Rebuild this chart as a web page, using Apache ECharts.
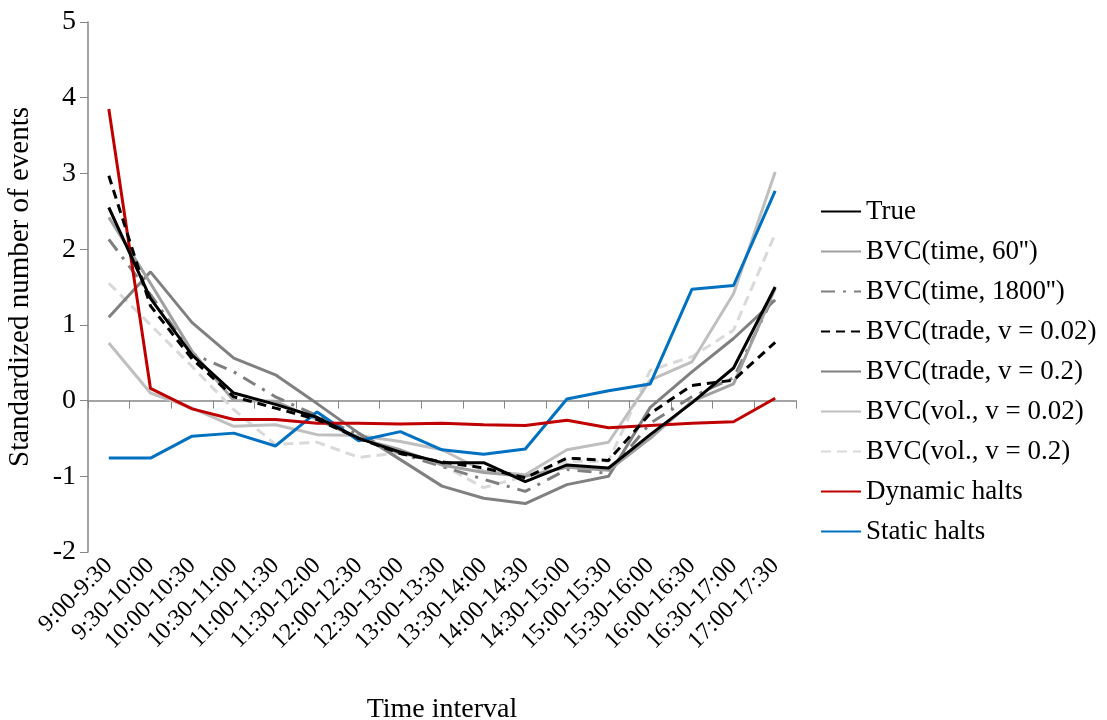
<!DOCTYPE html>
<html>
<head>
<meta charset="utf-8">
<script src="https://cdn.jsdelivr.net/npm/echarts@6/dist/echarts.min.js"></script>
<style>html,body{margin:0;padding:0;background:#fff}#c{width:1107px;height:720px}</style>
</head>
<body>
<div id="c"></div>
<script>
const categories = ["9:00-9:30","9:30-10:00","10:00-10:30","10:30-11:00","11:00-11:30","11:30-12:00","12:00-12:30","12:30-13:00","13:00-13:30","13:30-14:00","14:00-14:30","14:30-15:00","15:00-15:30","15:30-16:00","16:00-16:30","16:30-17:00","17:00-17:30"];
const trueVals      = [2.55, 1.35, 0.60, 0.10, -0.05, -0.22, -0.50, -0.68, -0.82, -0.82, -1.07, -0.85, -0.89, -0.45, -0.03, 0.43, 1.50];
const bvcTime60     = [2.42, 1.55, 0.65, 0.00, -0.01, -0.25, -0.50, -0.65, -0.85, -0.95, -1.00, -0.88, -0.92, -0.50, -0.01, 0.22, 1.48];
const bvcTime1800   = [2.13, 1.40, 0.62, 0.38, 0.05, -0.20, -0.45, -0.70, -0.87, -1.04, -1.20, -0.91, -0.96, -0.30, 0.05, 0.30, 1.42];
const bvcTrade002   = [2.97, 1.25, 0.55, 0.05, -0.10, -0.25, -0.50, -0.70, -0.81, -0.89, -1.02, -0.76, -0.79, -0.17, 0.20, 0.27, 0.77];
const bvcTrade02    = [1.10, 1.70, 1.03, 0.56, 0.34, -0.04, -0.43, -0.78, -1.13, -1.29, -1.36, -1.11, -1.00, -0.09, 0.38, 0.82, 1.33];
const bvcVol002     = [0.76, 0.10, -0.10, -0.34, -0.32, -0.45, -0.46, -0.54, -0.65, -0.93, -0.98, -0.65, -0.55, 0.27, 0.51, 1.41, 3.02];
const bvcVol02      = [1.55, 1.00, 0.45, -0.12, -0.58, -0.55, -0.75, -0.69, -0.85, -1.15, -1.00, -0.80, -0.80, 0.40, 0.58, 0.93, 2.20];
const dynamicHalts  = [3.85, 0.16, -0.11, -0.25, -0.25, -0.30, -0.30, -0.31, -0.30, -0.32, -0.33, -0.26, -0.36, -0.33, -0.30, -0.28, 0.03];
const staticHalts   = [-0.76, -0.76, -0.47, -0.43, -0.60, -0.15, -0.53, -0.41, -0.65, -0.71, -0.64, 0.02, 0.13, 0.22, 1.47, 1.52, 2.77];
const yTicks = [-2, -1, 0, 1, 2, 3, 4, 5];

const serif = "'Liberation Serif', 'DejaVu Serif', serif";
function mk(name, data, color, type) {
  return {
    name, type: 'line', data, symbol: 'none', showSymbol: false,
    lineStyle: { color, width: 3, type: type || 'solid' },
    itemStyle: { color }
  };
}
const chart = echarts.init(document.getElementById('c'));
chart.setOption({
  animation: false,
  backgroundColor: '#fff',
  grid: { left: 88, right: 311, top: 22, bottom: 168, containLabel: false, outerBoundsMode: 'none' },
  legend: {
    orient: 'vertical', left: 815, top: 192,
    itemWidth: 40, itemHeight: 14, itemGap: 11,
    itemStyle: { opacity: 0 },
    textStyle: { fontFamily: serif, fontSize: 27, color: '#000', lineHeight: 29 },
    data: ['True', "BVC(time, 60'')", "BVC(time, 1800'')", 'BVC(trade, v = 0.02)', 'BVC(trade, v = 0.2)', 'BVC(vol., v = 0.02)', 'BVC(vol., v = 0.2)', 'Dynamic halts', 'Static halts']
  },
  xAxis: {
    type: 'category', data: categories, boundaryGap: true,
    name: 'Time interval', nameLocation: 'middle', nameGap: 144,
    nameTextStyle: { fontFamily: serif, fontSize: 28, color: '#000' },
    axisLine: { lineStyle: { color: '#868686', width: 1.5 } },
    axisTick: { show: true, length: 8, lineStyle: { color: '#868686' }, alignWithLabel: false },
    axisLabel: { rotate: 45, fontFamily: serif, fontSize: 24, color: '#000', margin: 10, interval: 0 }
  },
  yAxis: {
    type: 'value', min: -2, max: 5, interval: 1,
    name: 'Standardized number of events', nameLocation: 'middle', nameGap: 53,
    nameTextStyle: { fontFamily: serif, fontSize: 29, color: '#000' },
    axisLine: { show: true, lineStyle: { color: '#868686', width: 1.5 } },
    axisTick: { show: true, length: 8, lineStyle: { color: '#868686' } },
    axisLabel: { fontFamily: serif, fontSize: 28, color: '#000', margin: 12,
      formatter: v => yTicks.includes(v) ? String(v) : '' },
    splitLine: { show: false }
  },
  series: [
    mk("BVC(vol., v = 0.2)", bvcVol02, '#d9d9d9', [10, 6]),
    mk("BVC(vol., v = 0.02)", bvcVol002, '#bfbfbf'),
    mk("BVC(trade, v = 0.2)", bvcTrade02, '#808080'),
    mk("BVC(time, 1800'')", bvcTime1800, '#7f7f7f', [14, 8, 3, 8]),
    mk("BVC(time, 60'')", bvcTime60, '#a0a0a0'),
    mk('Static halts', staticHalts, '#0070c0'),
    mk('Dynamic halts', dynamicHalts, '#c00000'),
    mk('BVC(trade, v = 0.02)', bvcTrade002, '#000000', [9, 6]),
    mk('True', trueVals, '#000000')
  ]
});
</script>
</body>
</html>
